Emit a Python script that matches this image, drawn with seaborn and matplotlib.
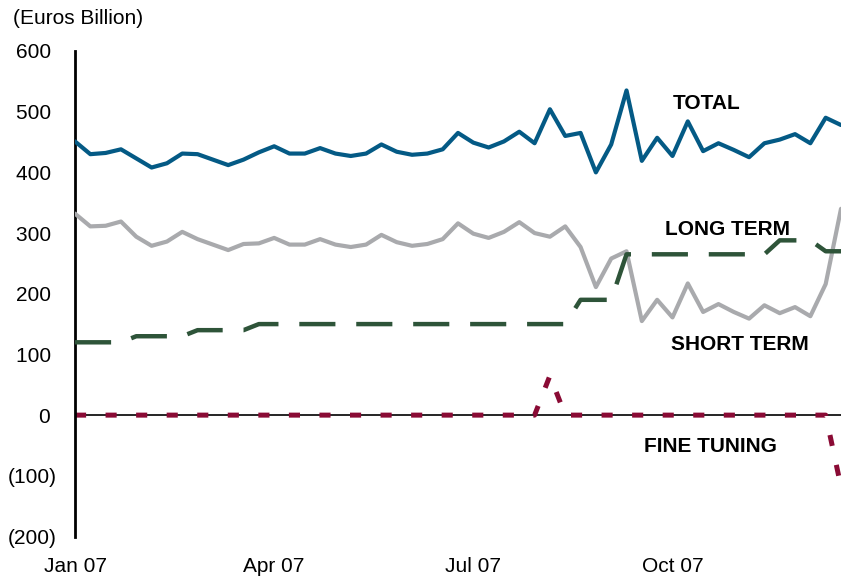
import numpy as np
import pandas as pd
import matplotlib
matplotlib.use("Agg")
import matplotlib.pyplot as plt
from matplotlib.ticker import FuncFormatter
import seaborn as sns

# ---- data (weekly, Jan 2007 onward) ----
total = [451, 430, 432, 438, 423, 408, 415, 431, 430, 421, 412, 421, 433, 443, 431,
         431, 440, 431, 427, 431, 446, 434, 429, 431, 438, 465, 449, 441, 451, 467,
         448, 504, 460, 465, 400, 446, 535, 419, 457, 427, 484, 435, 448, 437, 425,
         448, 454, 463, 448, 490, 478]
long_term = [332, 311, 312, 319, 294, 279, 286, 302, 290, 281, 272, 282, 283, 292, 281,
             281, 290, 281, 277, 281, 297, 285, 279, 282, 290, 316, 299, 292, 302, 318,
             300, 294, 311, 277, 211, 258, 270, 155, 190, 161, 217, 170, 183, 170, 159,
             181, 168, 178, 163, 216, 340]
short_term = [120, 120, 120, 120, 130, 130, 130, 130, 140, 140, 140, 140, 150, 150, 150,
              150, 150, 150, 150, 150, 150, 150, 150, 150, 150, 150, 150, 150, 150, 150,
              150, 150, 150, 190, 190, 190, 265, 265, 265, 265, 265, 265, 265, 265, 265,
              265, 288, 288, 288, 270, 270]
fine_tuning = [0] * 31 + [65] + [0] * 18 + [-118]
week = list(range(len(total)))
tick_weeks = [0, 13, 26, 39]
tick_labels = ["Jan 07", "Apr 07", "Jul 07", "Oct 07"]
series_labels = ["TOTAL", "LONG TERM", "SHORT TERM", "FINE TUNING"]

df = pd.DataFrame({"week": week, "total": total, "long": long_term,
                   "short": short_term, "fine": fine_tuning})

sns.set_theme(style="white")
plt.rcParams["font.family"] = ["Liberation Sans", "DejaVu Sans"]

fig = plt.figure(figsize=(8.41, 5.80), dpi=100)
ax = fig.add_axes([75 / 841, 1 - 536.5 / 580, 1 - 75 / 841, (536.5 - 51) / 580])

BLUE = "#045A85"
GRAY = "#A9AAAD"
GREEN = "#2E5439"
MAROON = "#8A0B35"

ax.axhline(0, color="black", lw=1.2, zorder=1)

sns.lineplot(data=df, x="week", y="long", ax=ax, color=GRAY, lw=3.0, zorder=3)
sns.lineplot(data=df, x="week", y="total", ax=ax, color=BLUE, lw=3.0, zorder=4)
sns.lineplot(data=df, x="week", y="short", ax=ax, color=GREEN, lw=3.2, zorder=3)
sns.lineplot(data=df, x="week", y="fine", ax=ax, color=MAROON, lw=3.6, zorder=2)

lines = ax.get_lines()
# lines[0] is the axhline
lines[3].set_dashes([26 / 3.2, 15 / 3.2])
lines[3].set_dash_capstyle("butt")
lines[4].set_dashes([8 / 3.6, 14 / 3.6])
lines[4].set_dash_capstyle("butt")

ax.set_xlim(0, 50)
ax.set_ylim(-200, 600)
ax.set_yticks(np.arange(-200, 601, 100))
ax.yaxis.set_major_formatter(FuncFormatter(
    lambda v, p: f"({abs(int(v))})" if v < 0 else f"{int(v)} "))
ax.set_xticks(tick_weeks)
ax.set_xticklabels(tick_labels)
ax.tick_params(axis="y", length=0, pad=13, labelsize=15, colors="black")
ax.tick_params(axis="x", length=0, pad=15, labelsize=15, colors="black")
ax.set_xlabel("")
ax.set_ylabel("")

for s in ["top", "right", "bottom"]:
    ax.spines[s].set_visible(False)
ax.spines["left"].set_color("black")
ax.spines["left"].set_linewidth(2.0)

label_pos = [(41.25, 514), (42.6, 306), (43.4, 117), (41.5, -51)]
for (lx, ly), txt in zip(label_pos, series_labels):
    ax.text(lx, ly, txt, ha="center", va="center", fontsize=15,
            fontweight="bold", color="black")

fig.text(13 / 841, 1 - 19 / 580, "(Euros Billion)", ha="left", va="center",
         fontsize=15, color="black")

fig.savefig("out.png", dpi=100)
